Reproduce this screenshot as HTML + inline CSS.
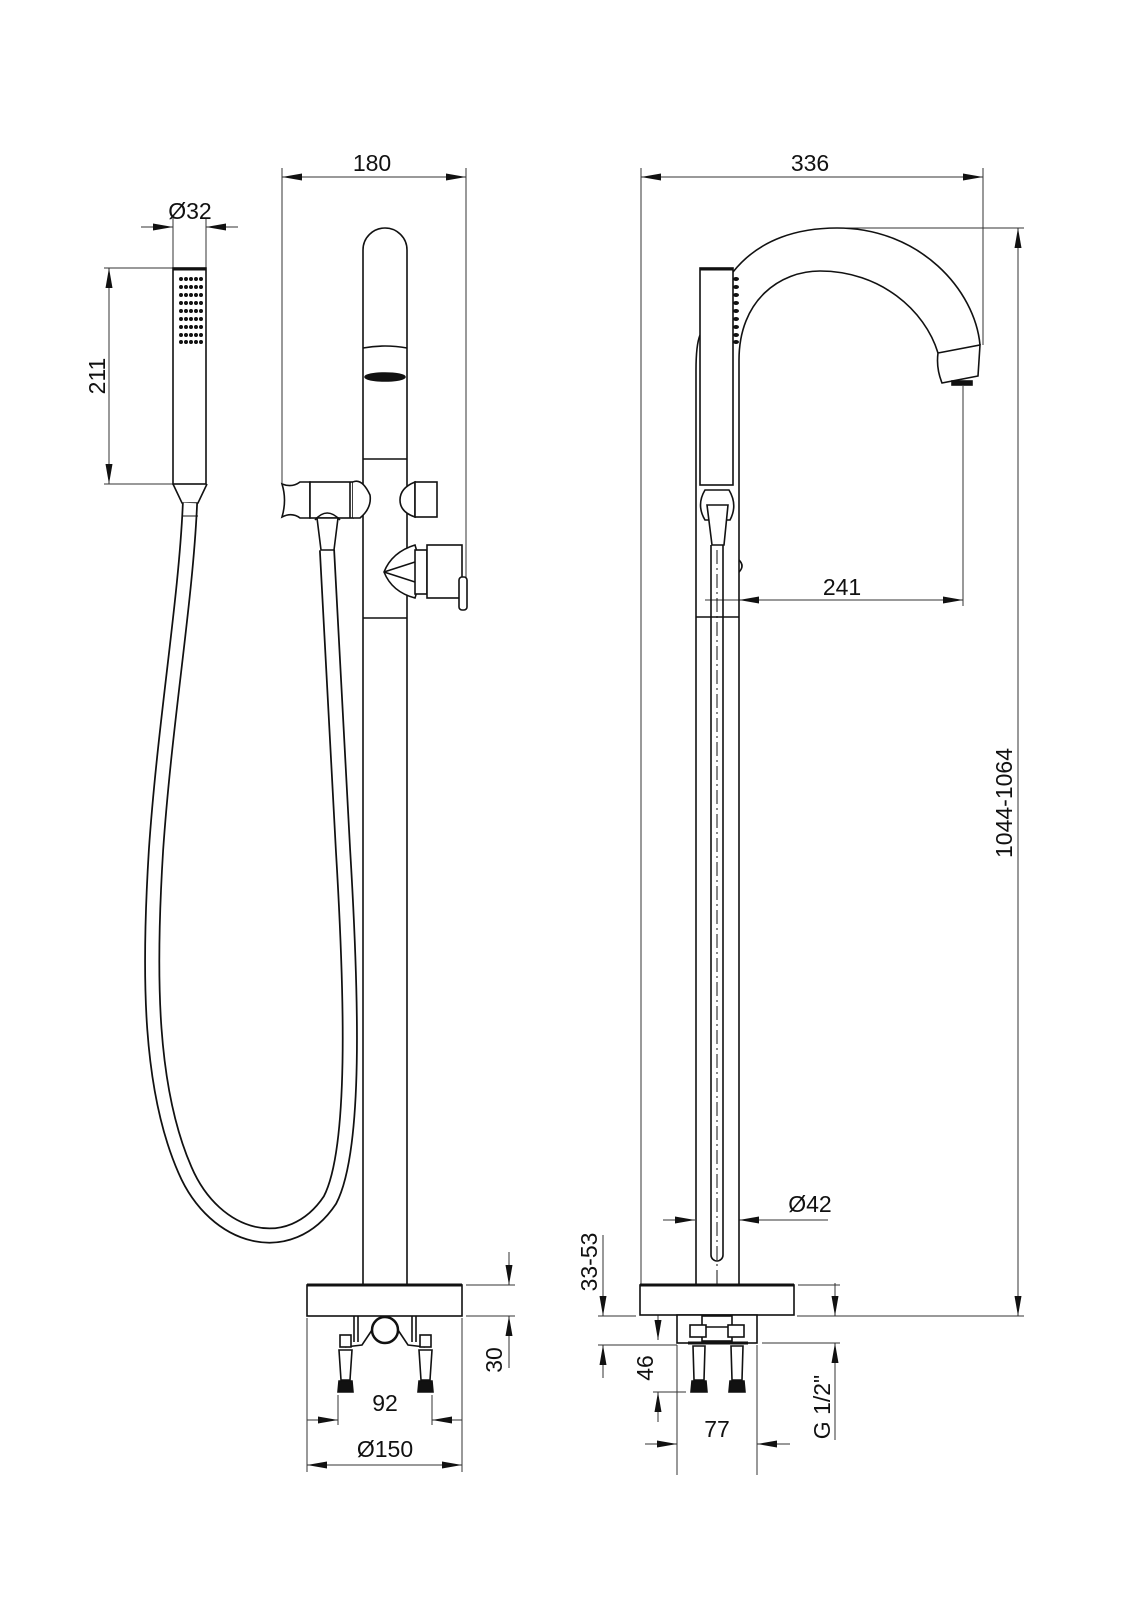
<!DOCTYPE html>
<html><head><meta charset="utf-8"><style>
html,body{margin:0;padding:0;background:#fff}
svg{display:block}
text{font-family:"Liberation Sans Narrow","Liberation Sans",sans-serif;font-size:23px;fill:#111}
</style></head><body>
<svg width="1132" height="1600" viewBox="0 0 1132 1600" xmlns="http://www.w3.org/2000/svg">
<defs>
<marker id="a" markerUnits="userSpaceOnUse" markerWidth="22" markerHeight="8" refX="20" refY="3.5" orient="auto-start-reverse"><path d="M0,0 L20,3.5 L0,7 z" fill="#111"/></marker>
</defs>
<g stroke="#333" stroke-width="1" fill="none">
<!-- dims left -->
<line x1="141" y1="227" x2="173" y2="227" marker-end="url(#a)"/>
<line x1="238" y1="227" x2="206" y2="227" marker-end="url(#a)"/>
<line x1="173" y1="218" x2="173" y2="268"/><line x1="206" y1="218" x2="206" y2="268"/>
<line x1="109" y1="268" x2="109" y2="484" marker-start="url(#a)" marker-end="url(#a)"/>
<line x1="104" y1="268" x2="173" y2="268"/><line x1="104" y1="484" x2="173" y2="484"/>
<line x1="282" y1="177" x2="466" y2="177" marker-start="url(#a)" marker-end="url(#a)"/>
<line x1="282" y1="168" x2="282" y2="484"/><line x1="466" y1="168" x2="466" y2="590"/>
<line x1="307" y1="1318" x2="307" y2="1472"/><line x1="462" y1="1318" x2="462" y2="1472"/>
<line x1="338" y1="1395" x2="338" y2="1425"/><line x1="432" y1="1395" x2="432" y2="1425"/>
<line x1="307" y1="1420" x2="338" y2="1420" marker-end="url(#a)"/>
<line x1="462" y1="1420" x2="432" y2="1420" marker-end="url(#a)"/>
<line x1="307" y1="1465" x2="462" y2="1465" marker-start="url(#a)" marker-end="url(#a)"/>
<line x1="466" y1="1285" x2="515" y2="1285"/><line x1="466" y1="1316" x2="515" y2="1316"/>
<line x1="509" y1="1252" x2="509" y2="1285" marker-end="url(#a)"/>
<line x1="509" y1="1368" x2="509" y2="1316" marker-end="url(#a)"/>
<!-- dims right -->
<line x1="641" y1="177" x2="983" y2="177" marker-start="url(#a)" marker-end="url(#a)"/>
<line x1="641" y1="168" x2="641" y2="1285"/><line x1="983" y1="168" x2="983" y2="345"/>
<line x1="835" y1="228" x2="1024" y2="228"/>
<line x1="797" y1="1316" x2="1024" y2="1316"/>
<line x1="1018" y1="228" x2="1018" y2="1316" marker-start="url(#a)" marker-end="url(#a)"/>
<line x1="739" y1="600" x2="963" y2="600" marker-start="url(#a)" marker-end="url(#a)"/>
<line x1="705" y1="600" x2="739" y2="600"/>
<line x1="963" y1="386" x2="963" y2="606"/>
<line x1="663" y1="1220" x2="695" y2="1220" marker-end="url(#a)"/>
<line x1="828" y1="1220" x2="739" y2="1220" marker-end="url(#a)"/>
<line x1="598" y1="1316" x2="636" y2="1316"/><line x1="598" y1="1345" x2="677" y2="1345"/>
<line x1="603" y1="1235" x2="603" y2="1316" marker-end="url(#a)"/>
<line x1="603" y1="1378" x2="603" y2="1345" marker-end="url(#a)"/>
<line x1="653" y1="1392" x2="686" y2="1392"/>
<line x1="658" y1="1312" x2="658" y2="1340" marker-end="url(#a)"/>
<line x1="658" y1="1422" x2="658" y2="1392" marker-end="url(#a)"/>
<line x1="762" y1="1343" x2="840" y2="1343"/><line x1="798" y1="1285" x2="840" y2="1285"/>
<line x1="835" y1="1283" x2="835" y2="1316" marker-end="url(#a)"/>
<line x1="835" y1="1440" x2="835" y2="1343" marker-end="url(#a)"/>
<line x1="677" y1="1345" x2="677" y2="1475"/><line x1="757" y1="1345" x2="757" y2="1475"/>
<line x1="645" y1="1444" x2="677" y2="1444" marker-end="url(#a)"/>
<line x1="790" y1="1444" x2="757" y2="1444" marker-end="url(#a)"/>
</g>
<g fill="#111">
<text x="190" y="219" text-anchor="middle">Ø32</text>
<text transform="translate(105,376) rotate(-90)" text-anchor="middle">211</text>
<text x="372" y="171" text-anchor="middle">180</text>
<text x="385" y="1411" text-anchor="middle">92</text>
<text x="385" y="1457" text-anchor="middle">Ø150</text>
<text transform="translate(502,1360) rotate(-90)" text-anchor="middle">30</text>
<text x="810" y="171" text-anchor="middle">336</text>
<text x="842" y="595" text-anchor="middle">241</text>
<text x="810" y="1212" text-anchor="middle">Ø42</text>
<text transform="translate(597,1262) rotate(-90)" text-anchor="middle">33-53</text>
<text transform="translate(653,1368) rotate(-90)" text-anchor="middle">46</text>
<text transform="translate(830,1407) rotate(-90)" text-anchor="middle">G 1/2"</text>
<text x="717" y="1437" text-anchor="middle">77</text>
<text transform="translate(1012,803) rotate(-90)" text-anchor="middle">1044-1064</text>
</g>
<g stroke="#111" stroke-width="1.6" fill="none">
<!-- hand shower -->
<rect x="173" y="268" width="33" height="216" fill="#fff"/>
<line x1="173" y1="269" x2="206" y2="269" stroke-width="3"/>
<path d="M173,484 L182,503 L198,503 L207,484"/>
<!-- hose -->
<path d="M190,503 C186,600 165,720 156,850 C148,980 150,1090 185,1170 C215,1240 290,1260 330,1200 C356,1150 352,1000 343,850 C336,720 330,620 327,550" stroke-width="16"/>
<path d="M190,503 C186,600 165,720 156,850 C148,980 150,1090 185,1170 C215,1240 290,1260 330,1200 C356,1150 352,1000 343,850 C336,720 330,620 327,550" stroke="#fff" stroke-width="12.5"/>
<line x1="182" y1="516" x2="198" y2="516" stroke-width="1"/>
<!-- column left view -->
<path d="M363,1285 L363,250 A22,22 0 0 1 407,250 L407,1285" fill="#fff"/>
<path d="M363,348 Q385,344 407,348"/>
<ellipse cx="385" cy="377" rx="20" ry="4" fill="#111"/>
<line x1="363" y1="459" x2="407" y2="459"/>
<line x1="363" y1="618" x2="407" y2="618"/>
<!-- holder -->
<path d="M282,484 Q292,488 300,482 L310,482 L310,518 L300,518 Q292,512 282,517 Q287,500 282,484z" fill="#fff"/>
<rect x="310" y="482" width="43" height="36" fill="#fff"/>
<line x1="350" y1="482" x2="350" y2="518"/>
<path d="M353,482 Q362,478 370,495 Q372,508 360,518 L353,518" fill="#fff"/>
<path d="M317,518 L321,550 L334,550 L338,518z" fill="#fff"/>
<path d="M315,520 Q327,506 340,520"/>
<!-- right knob -->
<path d="M415,482 Q400,488 400,500 Q400,512 415,517z" fill="#fff"/>
<rect x="415" y="482" width="22" height="35" fill="#fff"/>
<!-- valve -->
<path d="M415,545 Q392,552 384,572 Q392,592 415,598 Q424,572 415,545z" fill="#fff"/>
<line x1="384" y1="572" x2="415" y2="562"/><line x1="384" y1="572" x2="415" y2="582"/>
<rect x="415" y="550" width="12" height="44" fill="#fff"/>
<rect x="427" y="545" width="35" height="53" fill="#fff"/>
<rect x="459" y="577" width="8" height="33" rx="3" fill="#fff"/>
<!-- base left -->
<rect x="307" y="1285" width="155" height="31" fill="#fff"/>
<line x1="307" y1="1285" x2="462" y2="1285" stroke-width="3"/>
<line x1="354" y1="1316" x2="354" y2="1342"/><line x1="358" y1="1316" x2="358" y2="1342"/>
<line x1="412" y1="1316" x2="412" y2="1342"/><line x1="416" y1="1316" x2="416" y2="1342"/>
<circle cx="385" cy="1330" r="13" stroke-width="2.5"/>
<path d="M345,1347 L362,1345 L372,1330 M398,1330 L408,1345 L425,1347"/>
<rect x="340" y="1335" width="11" height="12" fill="#fff"/>
<rect x="420" y="1335" width="11" height="12" fill="#fff"/>
<path d="M339,1350 L352,1350 L350,1380 L341,1380z M419,1350 L432,1350 L430,1380 L421,1380z" fill="#fff"/>
<path d="M339,1381 L352,1381 L353,1392 L338,1392z M419,1381 L432,1381 L433,1392 L418,1392z" fill="#111"/>
<!-- right view spout -->
<path d="M733,272 C760,238 800,228 837,228 C920,228 975,290 980,345"/>
<path d="M739,480 L739,360 C739,300 780,271 820,271 C880,271 925,310 938,353"/>
<path d="M938,353 L980,345 L978,376 L942,383 Q936,368 938,353z" fill="#fff"/>
<rect x="952" y="381" width="20" height="4" fill="#111"/>
<path d="M700,335 Q696,345 696,370 L696,1285"/>
<line x1="739" y1="480" x2="739" y2="1285"/>
<line x1="696" y1="617" x2="739" y2="617"/>
<path d="M739,560 Q745,566 739,572"/>
<rect x="700" y="268" width="33" height="217" fill="#fff"/>
<line x1="700" y1="269" x2="733" y2="269" stroke-width="3"/>
<path d="M705,490 Q696,505 705,520 L730,520 Q738,505 729,490z" fill="#fff"/>
<path d="M707,505 L712,545 L724,545 L728,505z" fill="#fff"/>
<path d="M711,545 L711,1255 A6,6 0 0 0 723,1255 L723,545"/>
<line x1="717" y1="550" x2="717" y2="1320" stroke-width="1" stroke-dasharray="14,4,2,4"/>
<!-- base right -->
<rect x="640" y="1285" width="154" height="30" fill="#fff"/>
<line x1="640" y1="1285" x2="794" y2="1285" stroke-width="3"/>
<rect x="677" y="1315" width="80" height="28" fill="#fff"/>
<rect x="702" y="1316" width="30" height="25"/>
<line x1="702" y1="1327" x2="732" y2="1327"/>
<rect x="690" y="1325" width="16" height="12" fill="#fff"/><rect x="728" y="1325" width="16" height="12" fill="#fff"/>
<line x1="688" y1="1343" x2="748" y2="1343" stroke-width="3"/>
<path d="M693,1346 L705,1346 L704,1380 L694,1380z M731,1346 L743,1346 L742,1380 L732,1380z" fill="#fff"/>
<path d="M692,1381 L706,1381 L707,1392 L691,1392z M730,1381 L744,1381 L745,1392 L729,1392z" fill="#111"/>
</g>
<g fill="#111">
<g id="dots">
<circle cx="181" cy="279" r="2"/><circle cx="186" cy="279" r="2"/><circle cx="191" cy="279" r="2"/><circle cx="196" cy="279" r="2"/><circle cx="201" cy="279" r="2"/>
</g>
<use href="#dots" y="8"/><use href="#dots" y="16"/><use href="#dots" y="24"/><use href="#dots" y="32"/><use href="#dots" y="40"/><use href="#dots" y="48"/><use href="#dots" y="56"/><use href="#dots" y="63"/>
<g id="rd"><ellipse cx="736" cy="279" rx="3" ry="2"/></g>
<use href="#rd" y="8"/><use href="#rd" y="16"/><use href="#rd" y="24"/><use href="#rd" y="32"/><use href="#rd" y="40"/><use href="#rd" y="48"/><use href="#rd" y="56"/><use href="#rd" y="63"/>
</g>
</svg>
</body></html>
